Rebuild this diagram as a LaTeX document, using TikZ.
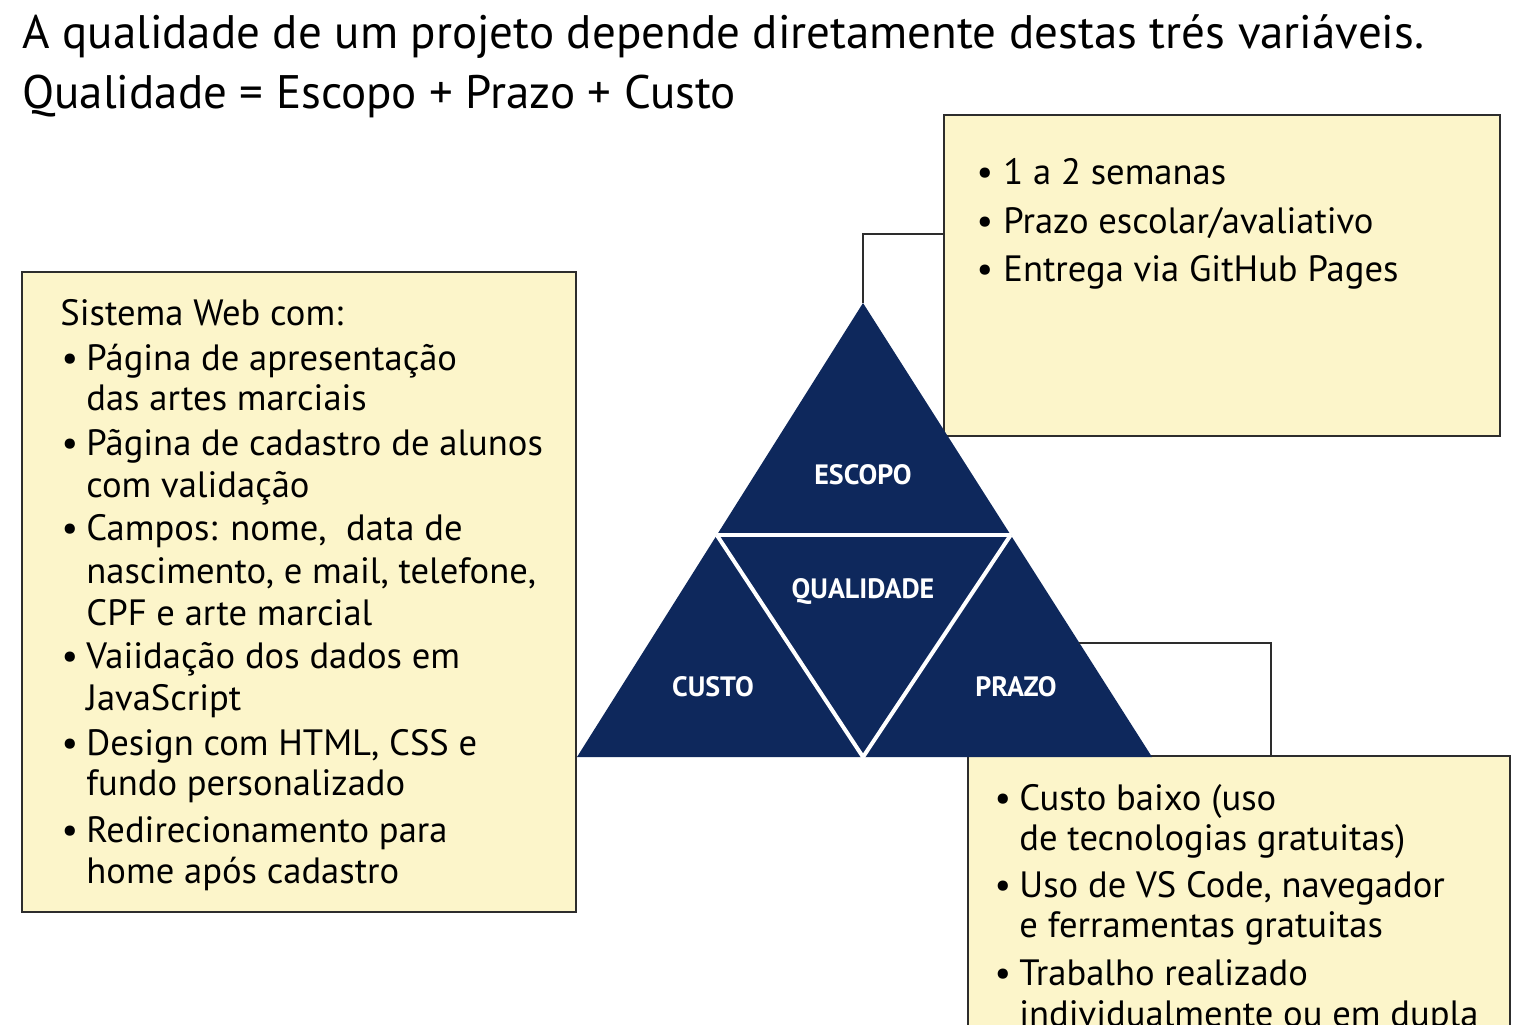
\documentclass[tikz,border=0pt]{standalone}
\usepackage{fontspec}
\setmainfont{PT Sans}
\usetikzlibrary{fit}
\definecolor{navy}{RGB}{14,40,92}
\definecolor{note}{RGB}{252,245,202}
\definecolor{frame}{RGB}{45,45,45}
\tikzset{
  notebox/.style={draw=frame, fill=note, line width=1pt, inner sep=0pt},
  conn/.style={draw=frame, line width=0.7pt},
  title/.style={anchor=base west, inner sep=0pt, font=\fontsize{23.5}{28}\selectfont},
  txt/.style={anchor=base west, inner sep=0pt, font=\fontsize{18.3}{22}\selectfont},
  bul/.style={anchor=base, inner sep=0pt, font=\fontsize{18.3}{22}\selectfont},
  tlabel/.style={text=white, inner sep=0pt, font=\fontsize{14}{16}\selectfont\bfseries},
  divider/.style={draw=white, line width=2pt}
}
\begin{document}
\begin{tikzpicture}[x=0.5pt,y=-0.5pt]
\useasboundingbox (0,0) rectangle (1536,1024);
\clip (0,0) rectangle (1536,1024);
\fill[white] (0,0) rectangle (1536,1024);

% title
\node[title] (t1) at (22,48) {A qualidade de um projeto depende diretamente destas trés variáveis.};
\node[title] (t2) at (22,108) {Qualidade = Escopo + Prazo + Custo};

% boxes
\node[notebox, fit={(22,272) (576,912)}] (escbox) {};
\node[notebox, fit={(944,115) (1500,436)}] (prazobox) {};
\node[notebox, fit={(968,756) (1510,1060)}] (custobox) {};

% triangle
\coordinate (A) at (863,303);
\coordinate (L) at (577,757);
\coordinate (R) at (1152,757);
\coordinate (ML) at (716.8,535);
\coordinate (MR) at (1010.7,535);
\coordinate (BM) at (863,757);
\coordinate (rc) at (1079,643);
\fill[navy] (A) -- (L) -- (R) -- cycle;
\draw[divider] (ML) -- (MR);
\draw[divider] (ML) -- (BM) -- (MR);
\node[tlabel] (escopo) at (863,475) {ESCOPO};
\node[tlabel] (qual) at (863,591) {QUALIDADE};
\node[tlabel] (custo) at (713,687) {CUSTO};
\node[tlabel] (prazo) at (1016,687) {PRAZO};

% connectors
\draw[conn] (A) |- (prazobox.west |- 0,234);
\draw[conn] (rc) -| (custobox.north -| 1271,0);

% left box text
\node[txt] (l0) at (60,325) {Sistema Web com:};
\node[bul] (b1) at (70,370) {•};
\node[txt] (l1) at (86,370) {Página de apresentação};
\node[txt] (l2) at (86,410) {das artes marciais};
\node[bul] (b2) at (70,455) {•};
\node[txt] (l3) at (86,455) {Pãgina de cadastro de alunos};
\node[txt] (l4) at (86,497) {com validação};
\node[bul] (b3) at (70,540) {•};
\node[txt] (l5) at (86,540) {Campos: nome,\ \ data de};
\node[txt] (l6) at (86,583) {nascimento, e mail, telefone,};
\node[txt] (l7) at (86,625) {CPF e arte marcial};
\node[bul] (b4) at (70,668) {•};
\node[txt] (l8) at (86,668) {Vaiidação dos dados em};
\node[txt] (l9) at (86,710) {JavaScript};
\node[bul] (b5) at (70,755) {•};
\node[txt] (l10) at (86,755) {Design com HTML, CSS e};
\node[txt] (l11) at (86,795) {fundo personalizado};
\node[bul] (b6) at (70,842) {•};
\node[txt] (l12) at (86,842) {Redirecionamento para};
\node[txt] (l13) at (86,883) {home após cadastro};

% top-right box text
\node[bul] (p1b) at (985,184) {•};
\node[txt] (p1) at (1003,184) {1 a 2 semanas};
\node[bul] (p2b) at (985,233) {•};
\node[txt] (p2) at (1003,233) {Prazo escolar/avaliativo};
\node[bul] (p3b) at (985,281) {•};
\node[txt] (p3) at (1003,281) {Entrega via GitHub Pages};

% bottom-right box text
\node[bul] (c1b) at (1003,810) {•};
\node[txt] (c1) at (1019,810) {Custo baixo (uso};
\node[txt] (c2) at (1019,850) {de tecnologias gratuitas)};
\node[bul] (c3b) at (1003,897) {•};
\node[txt] (c3) at (1019,897) {Uso de VS Code, navegador};
\node[txt] (c4) at (1019,937) {e ferramentas gratuitas};
\node[bul] (c5b) at (1003,985) {•};
\node[txt] (c5) at (1019,985) {Trabalho realizado};
\node[txt] (c6) at (1019,1026) {individualmente ou em dupla};
\end{tikzpicture}
\end{document}
